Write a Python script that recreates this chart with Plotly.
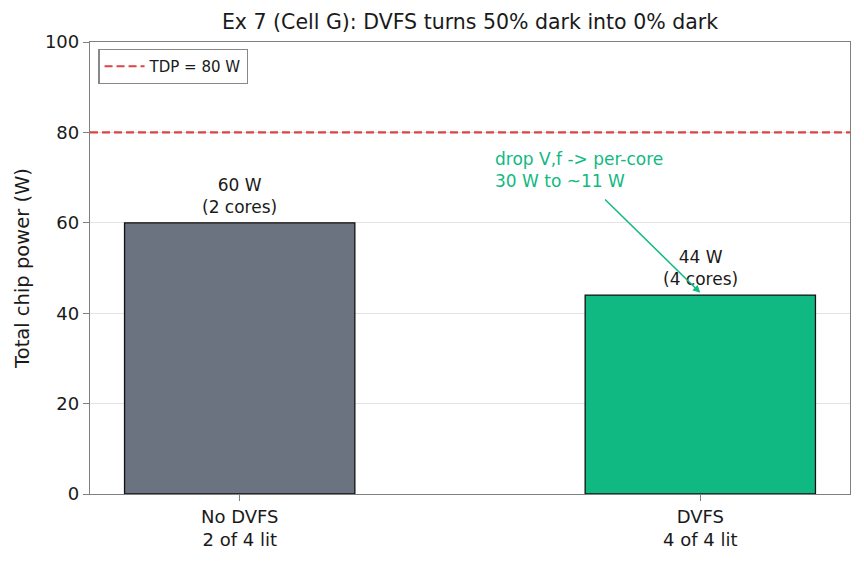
import plotly.graph_objects as go

categories = ["No DVFS<br>2 of 4 lit", "DVFS<br>4 of 4 lit"]
power_w = [60, 44]
bar_labels = ["60 W<br>(2 cores)", "44 W<br>(4 cores)"]
bar_colors = ["#6b7280", "#10b981"]
tdp_w = 80
y_ticks = [0, 20, 40, 60, 80, 100]

FONT = "DejaVu Sans"
TXT = "#1a1a1a"
xpos = list(range(len(categories)))

fig = go.Figure()
fig.add_trace(go.Bar(
    x=xpos, y=power_w, width=0.5,
    marker=dict(color=bar_colors, line=dict(color="#111111", width=1.3)),
    showlegend=False, hoverinfo="skip",
))
for xv, yv, lab in zip(xpos, power_w, bar_labels):
    fig.add_annotation(x=xv, y=yv, xref="x", yref="y", text=lab, showarrow=False,
                       xanchor="center", yanchor="bottom", yshift=4, align="center",
                       font=dict(family=FONT, size=17, color=TXT))
# legend entry for TDP line
fig.add_trace(go.Scatter(
    x=[None], y=[None], mode="lines", name="TDP = 80 W",
    line=dict(color="#d94444", width=2.2, dash="8px,4px"),
))
fig.add_shape(type="line", xref="paper", x0=0, x1=1, yref="y", y0=tdp_w, y1=tdp_w,
              line=dict(color="#d94444", width=2.2, dash="8px,4px"), layer="above")

# arrow annotation
fig.add_annotation(x=1.0, y=44.5, ax=0.79, ay=65.5, xref="x", yref="y", axref="x", ayref="y",
                   text="", showarrow=True, arrowhead=2, arrowsize=1, arrowwidth=1.5,
                   arrowcolor="#10b981")
fig.add_annotation(x=0.551, y=66.6, xref="x", yref="y", text="drop V,f -> per-core<br>30 W to ~11 W",
                   showarrow=False, xanchor="left", yanchor="bottom", align="left",
                   font=dict(family=FONT, size=17, color="#10b981"))

fig.update_layout(
    width=864, height=563,
    margin=dict(l=90, r=14, t=42, b=69),
    paper_bgcolor="white", plot_bgcolor="white",
    font=dict(family=FONT, size=18, color=TXT),
    title=dict(text="Ex 7 (Cell G): DVFS turns 50% dark into 0% dark", x=0.544, xanchor="center",
               y=0.962, yanchor="middle", font=dict(family=FONT, size=20.5, color=TXT)),
    legend=dict(x=0.011, y=0.985, xanchor="left", yanchor="top",
                bordercolor="#888888", borderwidth=1.2, bgcolor="rgba(255,255,255,0.9)",
                font=dict(family=FONT, size=15, color=TXT), itemwidth=40),
    xaxis=dict(range=[-0.325, 1.325], tickmode="array", tickvals=xpos, ticktext=categories,
               showline=True, linecolor="#808080", linewidth=1.3, mirror=True,
               ticks="outside", ticklen=6, tickcolor="#808080", showgrid=False, zeroline=False,
               tickfont=dict(family=FONT, size=18, color=TXT)),
    yaxis=dict(range=[0, 100], tickmode="array", tickvals=y_ticks,
               showline=True, linecolor="#808080", linewidth=1.3, mirror=True,
               ticks="outside", ticklen=6, tickcolor="#808080",
               showgrid=True, gridcolor="#e3e3e3", gridwidth=0.8, zeroline=False,
               tickfont=dict(family=FONT, size=18, color=TXT),
               title=dict(text="Total chip power (W)", font=dict(family=FONT, size=19.5, color=TXT),
                          standoff=10)),
)

fig.write_html("out.html")
